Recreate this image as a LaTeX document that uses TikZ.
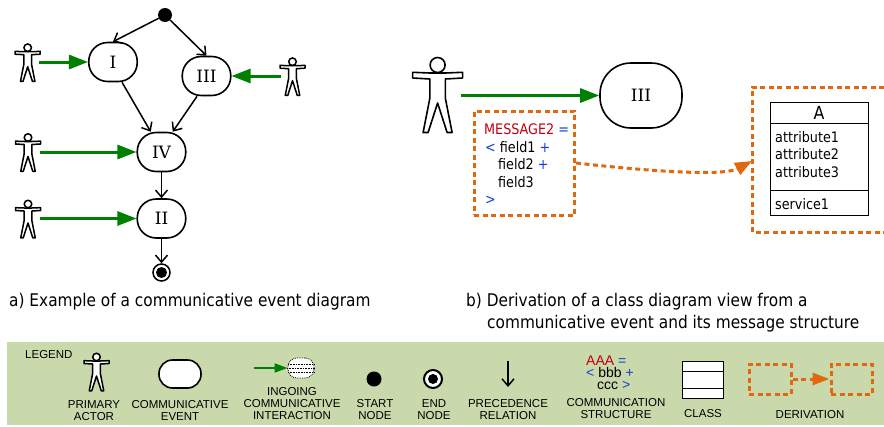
\documentclass[tikz,border=0pt]{standalone}
\usepackage{fontspec}
\setmainfont[FakeStretch=0.88]{DejaVu Sans}
\newfontfamily\legendfont{Liberation Sans}
\newfontfamily\numfont{DejaVu Serif}
\usetikzlibrary{arrows.meta}
\usetikzlibrary{shapes}
\definecolor{legendbg}{HTML}{CAD9AB}
\definecolor{dergreen}{HTML}{008000}
\definecolor{derorange}{HTML}{E0690F}
\definecolor{msgred}{HTML}{C00010}
\definecolor{msgblue}{HTML}{1040D0}
\tikzset{
  actorfig/.pic={
    \draw[fill=white,line join=round] (-25,7.3) -- (-7.7,8) -- (7.7,8) -- (25,7.3)
      -- (25,13) -- (7.7,14) -- (7.7,33) -- (14.5,67.5) -- (9.5,67.5) -- (0,38)
      -- (-9.5,67.5) -- (-14.5,67.5) -- (-7.7,33) -- (-7.7,14) -- (-25,13) -- cycle;
    \draw[fill=white] (0,0) circle (7.5pt);
  },
  evnode/.style={draw,line width=1.6pt,fill=white,rounded corners=19pt,minimum width=48.5pt,
    minimum height=39pt,inner sep=0pt,font=\numfont\fontsize{17}{20}\selectfont},
  greenarr/.style={draw=dergreen,line width=3pt,-{Triangle[length=19pt,width=14pt,fill=dergreen]}},
  precarr/.style={line width=1.5pt,-{Straight Barb[length=7pt,width=12pt]}},
  derline/.style={line width=3pt,dash pattern=on 5pt off 3.5pt},
  lgtext/.style={font=\legendfont\fontsize{11.5}{12}\selectfont,inner sep=0pt,align=center},
  msgtext/.style={font=\fontsize{14.5}{16}\selectfont,inner sep=0pt,anchor=base west},
  captext/.style={font=\fontsize{17.45}{22}\selectfont,inner sep=0pt,anchor=base west},
}
\newcommand{\redt}[1]{\textcolor{msgred}{#1}}
\newcommand{\blut}[1]{\textcolor{msgblue}{#1}}
\begin{document}
\begin{tikzpicture}[x=1pt,y=-1pt]
    \useasboundingbox (0,0) rectangle (884,426);
    % Diagram a
    \node[circle,fill=black,inner sep=0pt,minimum size=14pt] (start) at (165,15) {};
    \node[evnode] (I) at (113,62) {I};
    \node[evnode] (III) at (206.5,76) {III};
    \node[evnode] (IV) at (161.5,152) {IV};
    \node[evnode] (II) at (161.5,218.5) {II};
    \node[circle,draw,line width=1.5pt,fill=white,inner sep=0pt,minimum size=17pt] (finish) at (161.5,272.5) {};
    \node[circle,fill=black,inner sep=0pt,minimum size=11pt] (finishdot) at (finish) {};
    \draw[precarr] (start) -- (I.north);
    \draw[precarr] (start) -- (III.north);
    \draw[precarr] (I.-66) -- (IV.118);
    \draw[precarr] (III.-115) -- (IV.61);
    \draw[precarr] (IV) -- (II);
    \draw[precarr] (II) -- (finish);
    % Actors
    \pic[scale=0.5,line width=1.5pt] at (27.7,47.7) {actorfig};
    \pic[scale=0.5,line width=1.5pt] at (292.5,61.7) {actorfig};
    \pic[scale=0.5,line width=1.5pt] at (28,137.5) {actorfig};
    \pic[scale=0.5,line width=1.5pt] at (28,204) {actorfig};
    \coordinate (act1) at (39,62);
    \coordinate (act2) at (281,76);
    \coordinate (act3) at (40,152);
    \coordinate (act4) at (40,218.5);
    \draw[greenarr] (act1) -- (I);
    \draw[greenarr] (act2) -- (III);
    \draw[greenarr] (act3) -- (IV);
    \draw[greenarr] (act4) -- (II);
    \node[captext] (capa) at (9,306) {a) Example of a communicative event diagram};
    % Diagram b
    \pic[line width=1.6pt] at (437.6,65) {actorfig};
    \node[evnode,minimum width=82pt,minimum height=65pt,rounded corners=31pt] (IIIb) at (641,95.5) {III};
    \coordinate (act5) at (461,95.5);
    \draw[greenarr] (act5) -- (IIIb);
    \node[rectangle,draw=derorange,derline,minimum width=100.5pt,minimum height=104pt,inner sep=0pt] (msgbox) at (524.25,163) {};
    \node[msgtext] (msg1) at (484,134.5) {\redt{MESSAGE2} \blut{=}};
    \node[msgtext] (msg2) at (485,152) {\blut{<} field1 \blut{+}};
    \node[msgtext] (msg3) at (498,169.5) {field2 \blut{+}};
    \node[msgtext] (msg4) at (498,187) {field3};
    \node[msgtext] (msg5) at (485,204.5) {\blut{>}};
    \draw[draw=derorange,derline] (884,87) -- (752,87) -- (752,232) -- (884,232);
    \coordinate (viewin) at (752,161);
    \draw[draw=derorange,derline,-{Triangle[length=17pt,width=13pt,fill=derorange]}] (msgbox.east)
      .. controls (620,168) and (720,178) .. (viewin);
    % Class
    \draw[fill=white,line width=1pt] (770,102) rectangle (868,215);
    \draw[line width=1pt] (770,123) -- (868,123);
    \draw[line width=1pt] (770,190) -- (868,190);
    \node[font=\fontsize{18}{20}\selectfont,inner sep=0pt] (clsname) at (819,113) {A};
    \node[msgtext] (attr1) at (775,142) {attribute1};
    \node[msgtext] (attr2) at (775,159.5) {attribute2};
    \node[msgtext] (attr3) at (775,177) {attribute3};
    \node[msgtext] (serv1) at (775,209) {service1};
    \node[captext] (capb1) at (466,306) {b) Derivation of a class diagram view from a};
    \node[captext] (capb2) at (487,328) {communicative event and its message structure};
    % Legend
    \fill[legendbg] (7,342) rectangle (884,425);
    \node[lgtext,anchor=base west] (lgtitle) at (25,358) {LEGEND};
    \pic[scale=0.5,line width=1.5pt] at (96.5,357) {actorfig};
    \node[lgtext] (lgactor) at (94,410.5) {PRIMARY\\ACTOR};
    \node[evnode,minimum width=42pt,minimum height=28pt,rounded corners=13.5pt] (lgevent) at (180,374) {};
    \node[lgtext] (lgeventt) at (180,410.5) {COMMUNICATIVE\\EVENT};
    \node[draw,densely dotted,line width=0.8pt,fill=white,rounded corners=9pt,minimum width=26pt,minimum height=20pt,inner sep=0pt] (lgin) at (301,368) {};
    \draw[densely dotted,line width=0.6pt] (288,364) -- (314,364);
    \draw[densely dotted,line width=0.6pt] (287,368) -- (315,368);
    \draw[densely dotted,line width=0.6pt] (288,372) -- (314,372);
    \coordinate (lgfrom) at (254,368);
    \draw[greenarr,line width=2pt,-{Triangle[length=13pt,width=9pt,fill=dergreen]}] (lgfrom) -- (lgin);
    \node[lgtext] (lgint) at (292,404) {INGOING\\COMMUNICATIVE\\INTERACTION};
    \node[circle,fill=black,inner sep=0pt,minimum size=15pt] (lgstart) at (374,379) {};
    \node[lgtext] (lgstartt) at (375,410) {START\\NODE};
    \node[circle,fill=white,draw,line width=2pt,inner sep=0pt,minimum size=18pt] (lgend) at (433,379) {};
    \node[circle,fill=black,inner sep=0pt,minimum size=10pt] (lgenddot) at (lgend) {};
    \node[lgtext] (lgendt) at (434,410) {END\\NODE};
    \coordinate (lgptop) at (508,361);
    \coordinate (lgpbot) at (508,387);
    \draw[precarr] (lgptop) -- (lgpbot);
    \node[lgtext] (lgprec) at (508,410) {PRECEDENCE\\RELATION};
    \node[font=\legendfont\fontsize{14}{12}\selectfont,inner sep=0pt,align=left,anchor=west] (lgmsg) at (586,372.5)
      {\redt{AAA} \blut{=}\\ \blut{<} bbb \blut{+}\\ \hspace*{11pt}ccc \blut{>}};
    \node[lgtext] (lgcomm) at (616,409) {COMMUNICATION\\STRUCTURE};
    \draw[fill=white,line width=1pt] (682,361) rectangle (723,398);
    \draw[line width=1pt] (682,371) -- (723,371);
    \draw[line width=1pt] (682,388) -- (723,388);
    \node[lgtext] (lgclass) at (703,414) {CLASS};
    \node[draw=derorange,derline,minimum width=42pt,minimum height=30pt,inner sep=0pt] (lgder1) at (770,379) {};
    \node[draw=derorange,derline,minimum width=41pt,minimum height=30pt,inner sep=0pt] (lgder2) at (851.5,379) {};
    \draw[draw=derorange,derline,-{Triangle[length=17pt,width=12pt,fill=derorange]}] (lgder1) -- (lgder2);
    \node[lgtext] (lgderv) at (810,415) {DERIVATION};
\end{tikzpicture}
\end{document}
